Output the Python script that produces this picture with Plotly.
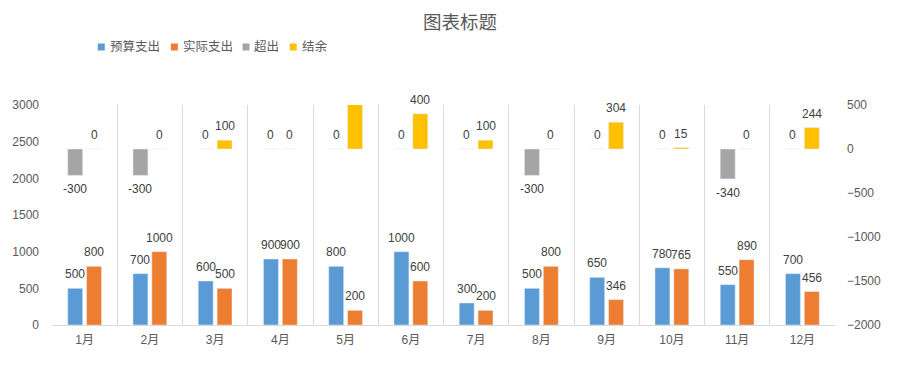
import plotly.graph_objects as go

months = ["1月", "2月", "3月", "4月", "5月", "6月", "7月", "8月", "9月", "10月", "11月", "12月"]
budget = [500, 700, 600, 900, 800, 1000, 300, 500, 650, 780, 550, 700]
actual = [800, 1000, 500, 900, 200, 600, 200, 800, 346, 765, 890, 456]
over = [-300, -300, 0, 0, 0, 0, 0, -300, 0, 0, -340, 0]
surplus = [0, 0, 100, 0, 600, 400, 100, 0, 304, 15, 0, 244]
series_names = ["预算支出", "实际支出", "超出", "结余"]
series_colors = ["#5B9BD5", "#ED7D31", "#A5A5A5", "#FFC000"]

Y1_RANGE = [0, 3000]
Y2_RANGE = [-2000, 500]
FONT = "Liberation Sans, Noto Sans CJK SC, sans-serif"
LABEL_FONT = dict(family=FONT, size=12, color="#404040")

W, H = 912, 387
ML, MR, MT, MB = 48, 77, 105, 62
PW, PH = W - ML - MR, H - MT - MB
CAT_PX = PW / len(months)

BW = 0.229
OFF_L = -0.259
OFF_R = 0.03
LABEL_GAP = 14

fig = go.Figure()
series = [budget, actual, over, surplus]
axes = ["y", "y", "y2", "y2"]
offsets = [OFF_L, OFF_R, OFF_L, OFF_R]
ranges = [Y1_RANGE, Y1_RANGE, Y2_RANGE, Y2_RANGE]
for name, vals, col, ax, off, rng in zip(series_names, series, series_colors, axes, offsets, ranges):
    fig.add_trace(go.Bar(name=name, x=months, y=vals, marker_color=col, yaxis=ax,
                         width=BW, offset=off, showlegend=False, hoverinfo="x+y+name"))
    # data labels at the outer end of each bar (hidden when the bar runs past the axis, as Excel does)
    xs = (off + BW / 2) * CAT_PX
    for m, v in zip(months, vals):
        if v > rng[1] or v < rng[0]:
            continue
        fig.add_annotation(x=m, y=v, xref="x", yref=ax, text=str(v), showarrow=False,
                           xanchor="center", yanchor="middle", xshift=xs,
                           yshift=LABEL_GAP if v >= 0 else -LABEL_GAP,
                           font=LABEL_FONT)

# Manual compact legend (Excel style): small squares + names
def px_x(px):
    return (px - ML) / PW

def px_y(py):
    return (H - MB - py) / PH

sq_left = [94, 167.5, 239.5, 287]
txt_left = [104, 177.5, 249, 297]
leg_y = 47
for name, col, sx, tx in zip(series_names, series_colors, sq_left, txt_left):
    fig.add_shape(type="rect", xref="paper", yref="paper",
                  x0=px_x(sx), x1=px_x(sx + 7), y0=px_y(leg_y + 3.5), y1=px_y(leg_y - 3.5),
                  fillcolor=col, line=dict(width=0))
    fig.add_annotation(text=name, xref="paper", yref="paper", x=px_x(tx), y=px_y(leg_y),
                       xanchor="left", yanchor="middle", showarrow=False,
                       font=dict(family=FONT, size=12.5, color="#595959"))

fig.update_layout(
    width=W, height=H,
    margin=dict(l=ML, r=MR, t=MT, b=MB),
    paper_bgcolor="white", plot_bgcolor="white",
    font=dict(family=FONT, size=12, color="#595959"),
    title=dict(text="图表标题", x=460 / W, xanchor="center", y=1 - 23 / H, yanchor="middle",
               yref="container", font=dict(size=18.5, color="#595959", family=FONT)),
    showlegend=False,
    xaxis=dict(type="category", tickson="boundaries", showgrid=True, gridcolor="#D9D9D9",
               gridwidth=1, showline=True, linecolor="#D9D9D9", ticks="",
               ticklabelstandoff=4, tickfont=dict(size=12, color="#595959")),
    yaxis=dict(range=Y1_RANGE, dtick=500, showgrid=False, zeroline=False, showline=False,
               ticks="", ticklabelstandoff=12, tickfont=dict(size=12, color="#595959")),
    yaxis2=dict(range=Y2_RANGE, dtick=500, overlaying="y", side="right", showgrid=False,
                zeroline=False, showline=False, ticks="", ticklabelstandoff=11,
                tickfont=dict(size=12, color="#595959")),
)

fig.write_html("out.html", config={"displayModeBar": False},
               post_script="document.body.style.margin='0';document.body.style.padding='0';")
